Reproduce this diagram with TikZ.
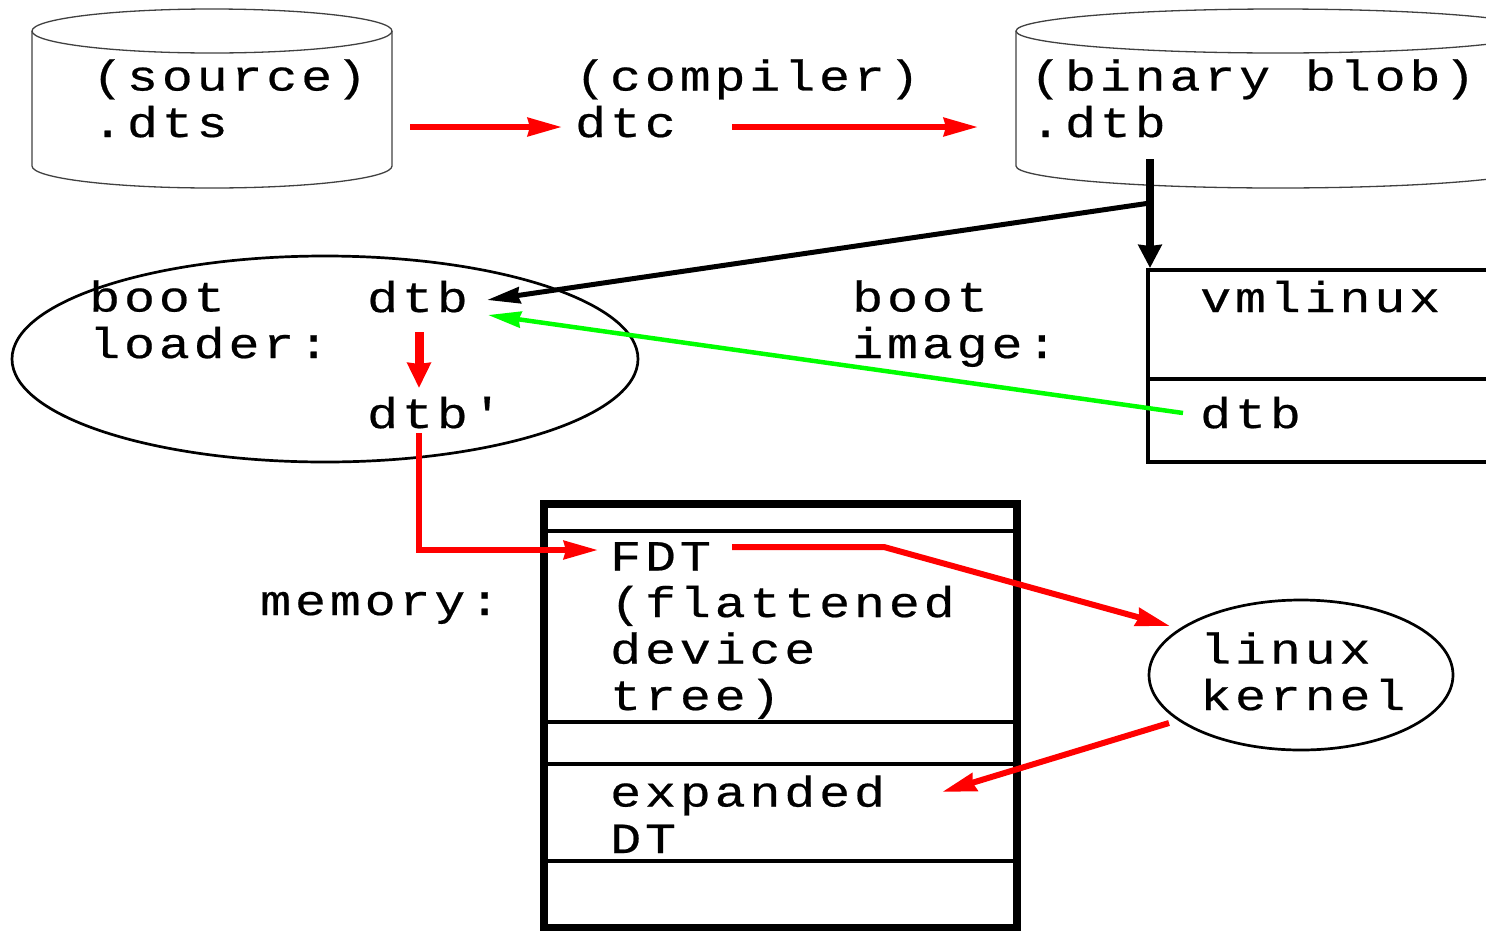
\documentclass[tikz,border=0pt]{standalone}
\usepackage{fontspec}
\newfontfamily\diagfont[FakeStretch=1.2, LetterSpace=9, FakeBold=0.5]{Liberation Mono}
\usetikzlibrary{arrows.meta,shapes.geometric,calc}
\begin{document}
\begin{tikzpicture}[x=1pt,y=-1pt,
  txt/.style={font=\diagfont\fontsize{43}{46.5}\selectfont, inner sep=0pt, anchor=base west, align=left},
  cyl/.style={draw=black!75, line width=1.3pt},
  hole/.style={inner sep=0pt, outer sep=0pt},
  ring/.style={draw, ellipse, line width=2.7pt, inner sep=0pt, outer sep=0pt},
  block/.style={draw, line width=4pt, inner sep=0pt, outer sep=0pt},
  redarrow/.style={draw=red, line width=6pt, -{Stealth[length=34pt,width=18pt,inset=2pt]}},
  shortred/.style={draw=red, line width=9pt, -{Stealth[length=25pt,width=23pt,inset=1pt]}},
  greenarrow/.style={draw=green, line width=4.5pt, -{Stealth[length=33pt,width=16pt,inset=2pt]}},
  blackarrow/.style={draw=black, line width=5pt, -{Stealth[length=33pt,width=16pt,inset=2pt]}},
  downarrow/.style={draw=black, line width=8pt, -{Stealth[length=23pt,width=23pt,inset=1pt]}},
]
\useasboundingbox (0,0) rectangle (1486,930);
\clip (0,0) rectangle (1486,930);

% source file cylinder
\node[hole, minimum width=360pt, minimum height=180pt] (src) at (212,98) {};
\draw[cyl] (212,31) ellipse [x radius=180, y radius=22];
\draw[cyl] (32,31) -- (32,166) arc[start angle=180, end angle=0, x radius=180, y radius=22] -- (392,31);

% binary blob cylinder
\node[hole, minimum width=524pt, minimum height=180pt] (blob) at (1278,98) {};
\draw[cyl] (1278,31) ellipse [x radius=262, y radius=22];
\draw[cyl] (1016,31) -- (1016,166) arc[start angle=180, end angle=0, x radius=262, y radius=22] -- (1540,31);

% boot loader and kernel
\node[ring, minimum width=626pt, minimum height=206pt] (loader) at (325,359) {};
\node[ring, minimum width=304pt, minimum height=150pt] (kern) at (1301,675) {};

% boot image
\node[block, minimum width=452pt, minimum height=192pt] (img) at (1374,366) {};
\draw[line width=4pt] (1148,379) -- (1600,379);

% memory
\node[draw, line width=8pt, inner sep=0pt, outer sep=0pt, minimum width=473pt, minimum height=424pt] (mem) at (780.5,715.5) {};
\foreach \yy in {531,722,764,861}
  \draw[line width=3.8pt] (544,\yy) -- (1017,\yy);

% labels (multi-line labels are placed by the baseline of their last line)
\node[txt] (srcT) at (92,137) {(source)\\.dts};
\node[txt] (dtcT) at (575,137) {(compiler)\\dtc};
\node[txt] (blobT) at (1030,137) {(binary blob)\\.dtb};
\node[txt] (bootT) at (89,358) {boot\\loader:};
\node[txt] (dtbA) at (367,312) {dtb};
\node[txt] (dtbB) at (367,428) {dtb'};
\node[txt] (imgT) at (852,358) {boot\\image:};
\node[txt] (vmT) at (1200,312) {vmlinux};
\node[txt] (dtbC) at (1200,428) {dtb};
\node[txt] (memT) at (260,615) {memory:};
\node[txt] (fdtT) at (610,710) {FDT\\(flattened\\device\\tree)};
\node[txt] (expT) at (610,853) {expanded\\DT};
\node[txt] (kerT) at (1200,710) {linux\\kernel};

% connectors
\draw[redarrow] ($(src.east)+(18,29)$) -- ($(dtcT.base west)+(-13,-10)$);
\draw[redarrow] ($(dtcT.base west)+(157,-10)$) -- ($(blob.west)+(-38,29)$);
\draw[downarrow] ($(blob.south)+(-128,-29)$) -- ($(img.north west)+(2,-2)$);
\draw[blackarrow] ($(blob.south)+(-128,15)$) -- ($(dtbA.base west)+(120,-12)$);
\draw[greenarrow] ($(dtbC.base west)+(-17,-15)$) -- ($(dtbA.base west)+(121,3)$);
\draw[shortred] ($(dtbA.base west)+(52,20)$) -- ($(dtbB.base west)+(52,-40)$);
\draw[redarrow] ($(dtbB.base west)+(52,5)$) |- ($(fdtT.base west)+(-12,-160)$);
\draw[redarrow] ($(fdtT.base west)+(122,-163)$) -- ++(152,0) -- ($(kern.center)+(-131,-49)$);
\draw[redarrow] ($(kern.center)+(-132,48)$) -- ($(expT.base west)+(332,-61)$);
\end{tikzpicture}
\end{document}
